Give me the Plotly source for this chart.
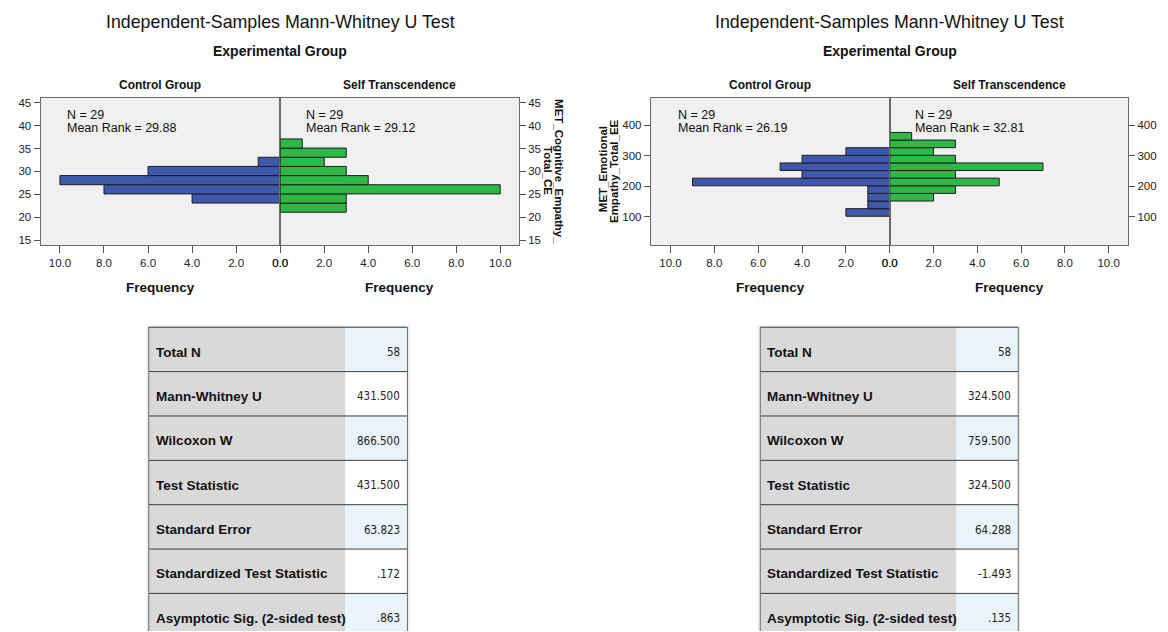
import plotly.graph_objects as go

W, H = 1168, 632

# ---------------- data ----------------
group_names = ["Control Group", "Self Transcendence"]
n_per_group = [29, 29]

cog_edges = [21.1, 23.1, 25.1, 27.1, 29.1, 31.1, 33.1, 35.1, 37.1]
cog_control = [0, 4, 8, 10, 6, 1, 0, 0]
cog_self = [3, 3, 10, 4, 3, 2, 3, 1]
cog_mean_ranks = [29.88, 29.12]

emo_edges = [101, 126, 151, 176, 201, 226, 251, 276, 301, 326, 351, 376]
emo_control = [2, 1, 1, 1, 9, 4, 5, 4, 2, 0, 0]
emo_self = [0, 0, 2, 3, 5, 3, 7, 3, 2, 3, 1]
emo_mean_ranks = [26.19, 32.81]

freq_ticks = [0, 2, 4, 6, 8, 10]
cog_yticks = [15, 20, 25, 30, 35, 40, 45]
emo_yticks = [100, 200, 300, 400]

stat_labels = ["Total N", "Mann-Whitney U", "Wilcoxon W", "Test Statistic",
               "Standard Error", "Standardized Test Statistic",
               "Asymptotic Sig. (2-sided test)"]
cog_stats = ["58", "431.500", "866.500", "431.500", "63.823", ".172", ".863"]
emo_stats = ["58", "324.500", "759.500", "324.500", "64.288", "-1.493", ".135"]

# ---------------- style ----------------
FONT = "Liberation Sans, Arial, sans-serif"
NARROW = "Liberation Sans Narrow, Arial Narrow, DejaVu Sans Condensed, Liberation Sans, sans-serif"
BLUE = "#3e58ac"
GREEN = "#2eb848"
FRAME = "#6a6a6a"
BG = "#f0f0f0"
LABEL_FILL = "#d9d9d9"
VALUE_FILLS = ["#eaf4fc", "#ffffff"]


def px(x):
    return x / W


def py(y):
    return 1 - y / H


fig = go.Figure()


def add_bars(edges, counts, xa, ya, color):
    ys, xs = [], []
    for i, c in enumerate(counts):
        if c > 0:
            ys.append((edges[i] + edges[i + 1]) / 2)
            xs.append(c)
    fig.add_trace(go.Bar(
        x=xs, y=ys, orientation="h", width=edges[1] - edges[0],
        marker=dict(color=color, line=dict(color="#1e1e1e", width=1)),
        xaxis=xa, yaxis=ya, hoverinfo="skip", showlegend=False))


add_bars(cog_edges, cog_control, "x", "y", BLUE)
add_bars(cog_edges, cog_self, "x2", "y", GREEN)
add_bars(emo_edges, emo_control, "x3", "y3", BLUE)
add_bars(emo_edges, emo_self, "x4", "y3", GREEN)
# invisible helpers so the right-hand overlay axes get drawn
fig.add_trace(go.Scatter(x=[1], y=[30], xaxis="x2", yaxis="y2", mode="markers",
                         marker=dict(opacity=0), hoverinfo="skip", showlegend=False))
fig.add_trace(go.Scatter(x=[1], y=[250], xaxis="x4", yaxis="y4", mode="markers",
                         marker=dict(opacity=0), hoverinfo="skip", showlegend=False))

tickfont = dict(size=11.5, color="#222", family=FONT)


def xaxis_style(dom, rng, anchor):
    return dict(domain=[px(dom[0]), px(dom[1])], range=rng, anchor=anchor,
                tickvals=freq_ticks, ticktext=[f"{v:.1f}" for v in freq_ticks],
                ticks="outside", ticklen=7, tickcolor="#555", tickfont=tickfont,
                showline=True, linecolor=FRAME, linewidth=1, mirror=True,
                showgrid=False, zeroline=False, fixedrange=True)


def yaxis_style(rng, ticks, anchor, side="left", overlaying=None):
    d = dict(domain=[py(245), py(97)], range=rng, anchor=anchor, side=side,
             tickvals=ticks, ticks="outside", ticklen=6, tickcolor="#555",
             tickfont=tickfont, showline=True, linecolor=FRAME, linewidth=1,
             mirror=True, showgrid=False, zeroline=False, fixedrange=True)
    if overlaying:
        d["overlaying"] = overlaying
    return d


cog_range = [13.9, 46.1]
emo_range = [6, 490]

layout = dict(
    width=W, height=H, margin=dict(l=0, r=0, t=0, b=0),
    paper_bgcolor="white", plot_bgcolor=BG, barmode="overlay",
    font=dict(family=FONT, color="#111"),
    xaxis=xaxis_style((33, 276), [10.88, 0], "y"),
    xaxis2=xaxis_style((276, 518), [0, 10.85], "y"),
    yaxis=yaxis_style(cog_range, cog_yticks, "x"),
    yaxis2=yaxis_style(cog_range, cog_yticks, "x2", side="right", overlaying="y"),
    xaxis3=xaxis_style((651.7, 894), [10.9, 0], "y3"),
    xaxis4=xaxis_style((894, 1135.7), [0, 10.89], "y3"),
    yaxis3=yaxis_style(emo_range, emo_yticks, "x3"),
    yaxis4=yaxis_style(emo_range, emo_yticks, "x4", side="right", overlaying="y3"),
)

# ---------------- tables ----------------
ROW_PX = 44.5
TABLE_TOP = 327.3
DOM_TOP = 325.0
split = 0.76
pad = 0.01
y_rng = [(H - TABLE_TOP) / ROW_PX, -(TABLE_TOP - DOM_TOP) / ROW_PX]
shapes = []
annotations = []


def add_table(idx, left, right, values):
    w = right - left
    xa, ya = f"x{idx}", f"y{idx}"
    layout[f"xaxis{idx}"] = dict(domain=[px(left - pad * w), px(right + pad * w)],
                                 range=[-pad, 1 + pad], anchor=ya, visible=False,
                                 fixedrange=True)
    layout[f"yaxis{idx}"] = dict(domain=[0, py(DOM_TOP)], range=y_rng, anchor=xa,
                                 visible=False, fixedrange=True)
    rows = [i + 0.5 for i in range(len(stat_labels))]
    fig.add_trace(go.Bar(y=rows, x=[split] * len(rows), base=0, orientation="h",
                         width=1, marker=dict(color=LABEL_FILL, line=dict(width=0)),
                         xaxis=xa, yaxis=ya, hoverinfo="skip", showlegend=False))
    fig.add_trace(go.Bar(y=rows, x=[1 - split] * len(rows), base=split, orientation="h",
                         width=1,
                         marker=dict(color=[VALUE_FILLS[i % 2] for i in range(len(rows))],
                                     line=dict(width=0)),
                         xaxis=xa, yaxis=ya, hoverinfo="skip", showlegend=False))
    for i in range(len(stat_labels) + 1):
        shapes.append(dict(type="line", xref=xa, yref=ya, x0=0, x1=1, y0=i, y1=i,
                           line=dict(color="#3c3c3c", width=1)))
    for xv in (0, 1):
        shapes.append(dict(type="line", xref=xa, yref=ya, x0=xv, x1=xv, y0=0,
                           y1=len(stat_labels), line=dict(color=FRAME, width=1)))
    for r, lab, val in zip(rows, stat_labels, values):
        annotations.append(dict(xref=xa, yref=ya, x=0.02, y=r + 0.06, text=f"<b>{lab}</b>",
                                showarrow=False, xanchor="left", yanchor="middle",
                                font=dict(size=13.5, color="#111")))
        annotations.append(dict(xref=xa, yref=ya, x=0.978, y=r + 0.06, text=val,
                                showarrow=False, xanchor="right", yanchor="middle",
                                font=dict(size=11.5, color="#222", family=NARROW)))


add_table(5, 142.7, 405.0, cog_stats)
add_table(6, 762.7, 1024.3, emo_stats)


# ---------------- chart texts ----------------
def txt(x, y, text, size, bold=False, xanchor="center", angle=0):
    annotations.append(dict(xref="paper", yref="paper", x=px(x), y=py(y),
                            text=f"<b>{text}</b>" if bold else text,
                            showarrow=False, xanchor=xanchor, yanchor="middle",
                            textangle=angle, font=dict(size=size, color="#111")))


for cx, panel_centers, ranks, nx in [
        (276, (154.5, 397), cog_mean_ranks, (58, 300)),
        (894, (772.8, 1015), emo_mean_ranks, (677, 918))]:
    txt(cx, 21, "Independent-Samples Mann-Whitney U Test", 17.8)
    txt(cx, 50, "Experimental Group", 14, bold=True)
    for pc, name, rank, nxx, n in zip(panel_centers, group_names, ranks, nx, n_per_group):
        txt(pc, 84.5, name, 12, bold=True)
        txt(pc, 287, "Frequency", 13.5, bold=True)
        txt(nxx, 114, f"N = {n}", 12.5, xanchor="left")
        txt(nxx, 127, f"Mean Rank = {rank:.2f}", 12.5, xanchor="left")

# y-axis titles
txt(558, 171, "MET_Cognitive_Empathy_", 11.5, bold=True, angle=90)
txt(547, 170, "Total_CE", 11.5, bold=True, angle=90)
txt(604, 169, "MET_Emotional", 11.5, bold=True, angle=-90)
txt(615, 171, "Empathy_Total_EE", 11.5, bold=True, angle=-90)

layout["shapes"] = shapes
layout["annotations"] = annotations
fig.update_layout(**layout)

fig.write_html("out.html", config={"displayModeBar": False},
               post_script="document.body.style.margin='0';document.body.style.overflow='hidden';")
